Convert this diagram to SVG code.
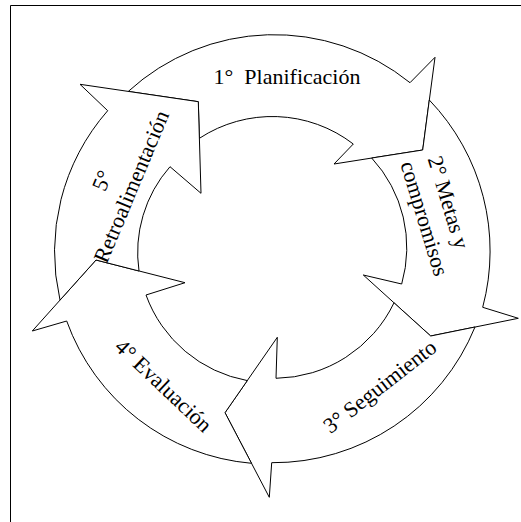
<svg xmlns="http://www.w3.org/2000/svg" width="521" height="522" viewBox="0 0 521 522">
  <style>
    .arrow { fill: #ffffff; stroke: #000000; stroke-width: 1; stroke-linejoin: miter; }
    .frame { fill: none; stroke: #000000; stroke-width: 1; }
    .label { font-family: "Liberation Serif", "Times New Roman", serif; font-size: 22px; fill: #000000; text-anchor: middle; }
  </style>
  <rect width="521" height="522" fill="#ffffff"/>
  <!-- page frame (left and top edges) -->
  <path class="frame" d="M10.5,522 V5.5 H521"/>

  <!-- five curved arrows forming the cycle; each tail ends on the previous arrowhead -->
  <g id="step1">
    <path class="arrow" d="M128.3,91.4 A216,216 0 0 1 410,82.7 L435,57.3 L422.7,150 L334,164 L353.3,144 A133,133 0 0 0 199.4,138.3 L198.3,101.7 Z"/>
    <text class="label" x="287" y="84">1°&#160; Planificación</text>
  </g>
  <g id="step2">
    <path class="arrow" d="M429.3,100 A218,218 0 0 1 482.7,307.3 L518.3,318.3 L430.7,336 L363.3,275 L401.7,284 A132,132 0 0 0 371.7,158 L422.7,150 Z"/>
    <g transform="translate(435.4,210.8) rotate(73)">
      <text class="label" x="-4.2" y="-7.7">2° Metas y</text>
      <text class="label" x="4.2" y="20">compromisos</text>
    </g>
  </g>
  <g id="step3">
    <path class="arrow" d="M475,327 A218,218 0 0 1 271.7,462.7 L269.3,497.3 L225,412.7 L277.3,337.3 L276,378.3 A133,133 0 0 0 394,302.8 L430.7,336 Z"/>
    <text class="label" transform="translate(384.3,392.2) rotate(-38)">3° Seguimiento</text>
  </g>
  <g id="step4">
    <path class="arrow" d="M251.5,463.3 A216,216 0 0 1 66.7,321 L32.3,331 L96,260 L185,282.7 L146,295 A133,133 0 0 0 247.3,380.6 L225,412.7 Z"/>
    <text class="label" transform="translate(158.5,390.9) rotate(43.5)">4° Evaluación</text>
  </g>
  <g id="step5">
    <path class="arrow" d="M60,300.1 A214,214 0 0 1 107.7,110.7 L80,84.3 L198.3,101.7 L201,193.3 L170,166.7 A130,130 0 0 0 139,271 L96,260 Z"/>
    <g transform="translate(117,183.7) rotate(-67.3)">
      <text class="label" x="-2.9" y="-7.7">5°</text>
      <text class="label" x="2.9" y="21.7">Retroalimentación</text>
    </g>
  </g>
</svg>
